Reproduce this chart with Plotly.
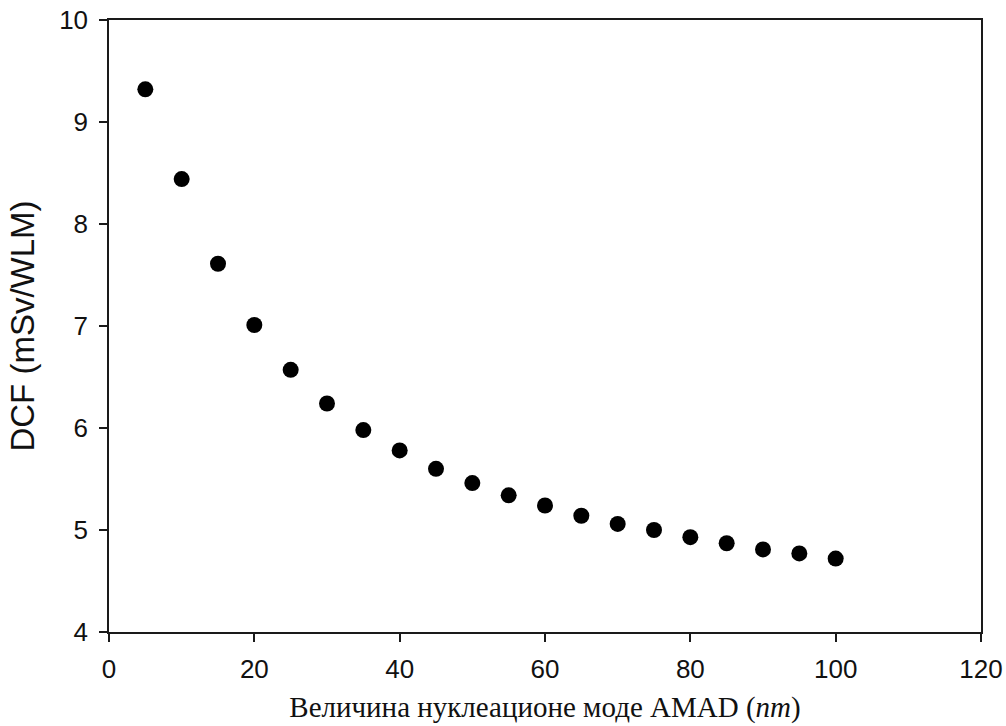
import plotly.graph_objects as go

# AMAD of the nucleation mode (nm) and dose conversion factor (mSv/WLM)
amad_nm = [5, 10, 15, 20, 25, 30, 35, 40, 45, 50, 55, 60, 65, 70, 75, 80, 85, 90, 95, 100]
dcf = [9.32, 8.44, 7.61, 7.01, 6.57, 6.24, 5.98, 5.78, 5.60, 5.46,
       5.34, 5.24, 5.14, 5.06, 5.00, 4.93, 4.87, 4.81, 4.77, 4.72]

x_ticks = [0, 20, 40, 60, 80, 100, 120]
y_ticks = [4, 5, 6, 7, 8, 9, 10]

fig = go.Figure(
    go.Scatter(
        x=amad_nm,
        y=dcf,
        mode="markers",
        marker=dict(size=16, color="black", line=dict(width=0)),
        showlegend=False,
    )
)

axis_common = dict(
    automargin=False,
    showgrid=False,
    zeroline=False,
    showline=True,
    linecolor="#1a1a1a",
    linewidth=1.5,
    mirror=True,
    ticks="outside",
    ticklen=8,
    tickwidth=1.5,
    tickcolor="#1a1a1a",
    tickfont=dict(family="Liberation Sans, Arial, sans-serif", size=26, color="#111111"),
)

fig.update_xaxes(
    range=[0, 120],
    tickvals=x_ticks,
    ticktext=[str(v) for v in x_ticks],
    ticklabelstandoff=5,
    title=dict(
        text="Величина нуклеационе моде AMAD (<i>nm</i>)",
        font=dict(family="Liberation Serif, Times New Roman, serif", size=29, color="#111111"),
        standoff=14,
    ),
    **axis_common,
)
fig.update_yaxes(
    range=[4, 10],
    tickvals=y_ticks,
    ticktext=[str(v) for v in y_ticks],
    ticklabelstandoff=6,
    title=dict(
        text="DCF (mSv/WLM)",
        font=dict(family="Liberation Sans, Arial, sans-serif", size=33, color="#111111"),
        standoff=15,
    ),
    **axis_common,
)

fig.update_layout(
    width=1006,
    height=726,
    margin=dict(l=109, r=25, t=20, b=94),
    paper_bgcolor="white",
    plot_bgcolor="white",
)

fig.write_html("out.html")
